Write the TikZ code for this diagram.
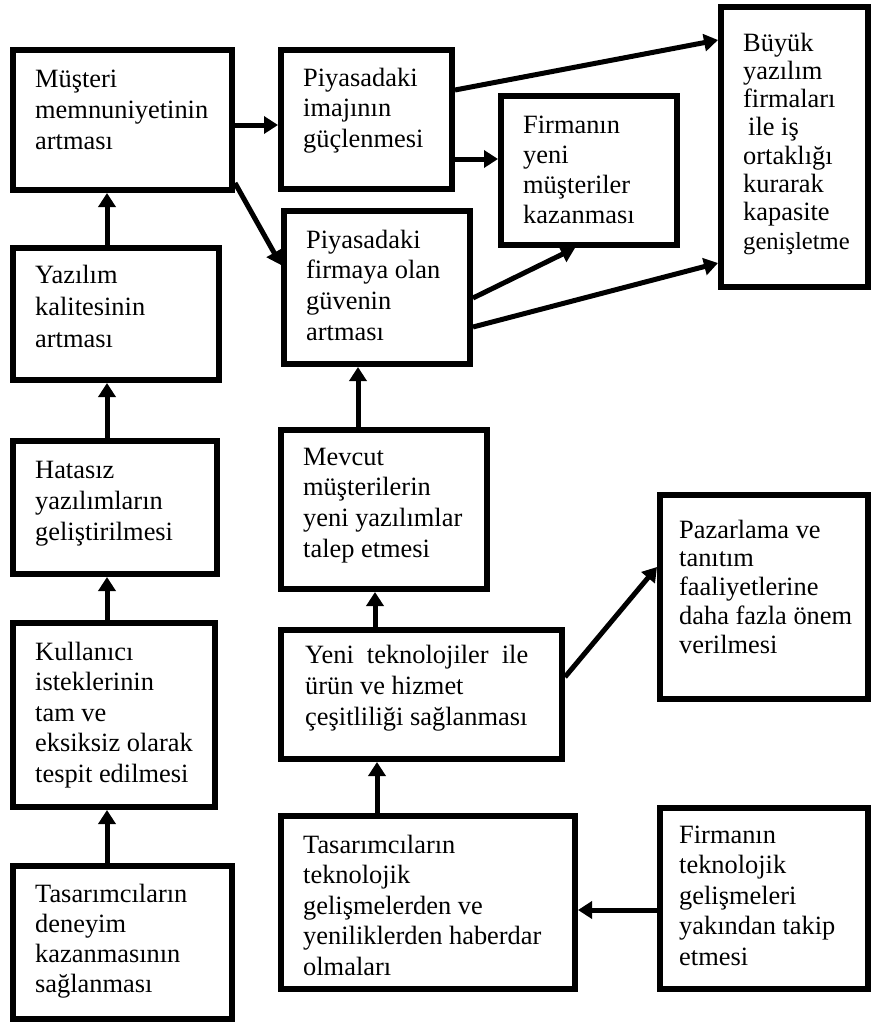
\documentclass[tikz,border=0pt]{standalone}
\usepackage{fontspec}
\setmainfont{Liberation Serif}
\usetikzlibrary{arrows.meta}

% Left-aligned block of lines whose baseline is the first line
\newcommand{\boxtext}[1]{\begin{tabular}[t]{@{}l@{}}#1\end{tabular}}

% \flowbox{name}{left}{top}{right}{bottom}: outer edges of a framed box
\newcommand{\flowbox}[5]{%
  \node[flowbox, minimum width={(#4)-(#2)-6}, minimum height={(#5)-(#3)-6}]
    (#1) at ({((#2)+(#4))/2},{((#3)+(#5))/2}) {};}

\tikzset{
  flowbox/.style={draw=black, line width=6pt, inner sep=0pt, rectangle},
  boxlabel/.style={anchor=base west, inner sep=0pt,
    font=\fontsize{26.4}{31}\selectfont},
  link/.style={draw=black, line width=5pt,
    -{Triangle[length=14pt, width=17pt]}},
}

\begin{document}
\begin{tikzpicture}[x=1pt, y=-1pt]
\useasboundingbox (0,0) rectangle (871,1026);

% ---- boxes ----
\flowbox{must}{10}{47}{235}{193}
\flowbox{imaj}{278}{47}{455}{192}
\flowbox{fyeni}{498}{93}{680}{248}
\flowbox{guven}{281}{208}{473}{367}
\flowbox{buyuk}{718}{4}{871}{290}
\flowbox{kalite}{10}{245}{222}{383}
\flowbox{hatasiz}{10}{438}{220}{577}
\flowbox{kullanici}{10}{620}{218}{810}
\flowbox{deneyim}{10}{863}{235}{1022}
\flowbox{mevcut}{278}{427}{490}{592}
\flowbox{pazar}{657}{492}{871}{702}
\flowbox{yenitek}{278}{627}{565}{762}
\flowbox{tastek}{278}{813}{578}{992}
\flowbox{firmatek}{657}{805}{871}{992}

% ---- texts ----
\node[boxlabel] (must-t) at (35,87)
  {\boxtext{Müşteri\\ memnuniyetinin\\ artması}};
\node[boxlabel, font=\fontsize{26.4}{30.5}\selectfont] (imaj-t) at (303,86)
  {\boxtext{Piyasadaki\\ imajının\\ güçlenmesi}};
\node[boxlabel, font=\fontsize{26.4}{30}\selectfont] (fyeni-t) at (523,133)
  {\boxtext{Firmanın\\ yeni\\ müşteriler\\ kazanması}};
\node[boxlabel, font=\fontsize{26.4}{30.7}\selectfont] (guven-t) at (306,248)
  {\boxtext{Piyasadaki\\ firmaya olan\\ güvenin\\ artması}};
\node[boxlabel, font=\fontsize{26.4}{28.3}\selectfont] (buyuk-t) at (743,51)
  {\boxtext{Büyük\\ yazılım\\ firmaları\\ \hspace*{5pt}ile iş\\ ortaklığı\\ kurarak\\ kapasite\\ {\fontsize{24.6}{28.3}\selectfont genişletme}}};
\node[boxlabel, font=\fontsize{26.4}{32}\selectfont] (kalite-t) at (35,283)
  {\boxtext{Yazılım\\ kalitesinin\\ artması}};
\node[boxlabel] (hatasiz-t) at (35,478)
  {\boxtext{Hatasız\\ yazılımların\\ geliştirilmesi}};
\node[boxlabel, font=\fontsize{26.4}{30.5}\selectfont] (kullanici-t) at (35,660)
  {\boxtext{Kullanıcı\\ isteklerinin\\ tam ve\\ eksiksiz olarak\\ tespit edilmesi}};
\node[boxlabel, font=\fontsize{26.4}{30.3}\selectfont] (deneyim-t) at (35,902)
  {\boxtext{Tasarımcıların\\ deneyim\\ kazanmasının\\ sağlanması}};
\node[boxlabel, font=\fontsize{26.4}{30.7}\selectfont] (mevcut-t) at (303,465)
  {\boxtext{Mevcut\\ müşterilerin\\ yeni yazılımlar\\ talep etmesi}};
\node[boxlabel, font=\fontsize{26.4}{28.8}\selectfont] (pazar-t) at (679,538)
  {\boxtext{Pazarlama ve\\ tanıtım\\ faaliyetlerine\\ daha fazla önem\\ verilmesi}};
\node[boxlabel] (yenitek-t) at (305,663)
  {\boxtext{\hbox to 223pt{Yeni\hfill\ teknolojiler\hfill\ ile}\\ ürün ve hizmet\\ çeşitliliği sağlanması}};
\node[boxlabel, font=\fontsize{26.4}{30.5}\selectfont] (tastek-t) at (303,853)
  {\boxtext{Tasarımcıların\\ teknolojik\\ gelişmelerden ve\\ yeniliklerden haberdar\\ olmaları}};
\node[boxlabel, font=\fontsize{26.4}{30.5}\selectfont] (firmatek-t) at (679,843)
  {\boxtext{Firmanın\\ teknolojik\\ gelişmeleri\\ yakından takip\\ etmesi}};

% ---- connectors ----
% left column, bottom to top
\draw[link] (deneyim.north -| 107,0) -- (kullanici.south -| 107,0);
\draw[link] (kullanici.north -| 107,0) -- (hatasiz.south -| 107,0);
\draw[link] (hatasiz.north -| 107,0) -- (kalite.south -| 107,0);
\draw[link] (kalite.north -| 107,0) -- (must.south -| 107,0);

% from customer satisfaction
\draw[link] (must.east |- 0,125) -- (imaj.west |- 0,125);
\draw[link] (must.east |- 0,183) -- (guven.west |- 0,265);

% from market image
\draw[link] (imaj.east |- 0,90) -- (buyuk.west |- 0,40);
\draw[link] (imaj.east |- 0,159) -- (fyeni.west |- 0,159);

% from market trust
\draw[link] (guven.east |- 0,298) -- (fyeni.south -| 575,0);
\draw[link] (guven.east |- 0,327) -- (buyuk.west |- 0,263);

% middle column, bottom to top
\draw[link] (firmatek.west |- 0,910) -- (tastek.east |- 0,910);
\draw[link] (tastek.north -| 377,0) -- (yenitek.south -| 377,0);
\draw[link] (yenitek.north -| 375,0) -- (mevcut.south -| 375,0);
\draw[link] (mevcut.north -| 358,0) -- (guven.south -| 358,0);
\draw[link] (yenitek.east |- 0,677) -- (pazar.west |- 0,567);
\end{tikzpicture}
\end{document}
